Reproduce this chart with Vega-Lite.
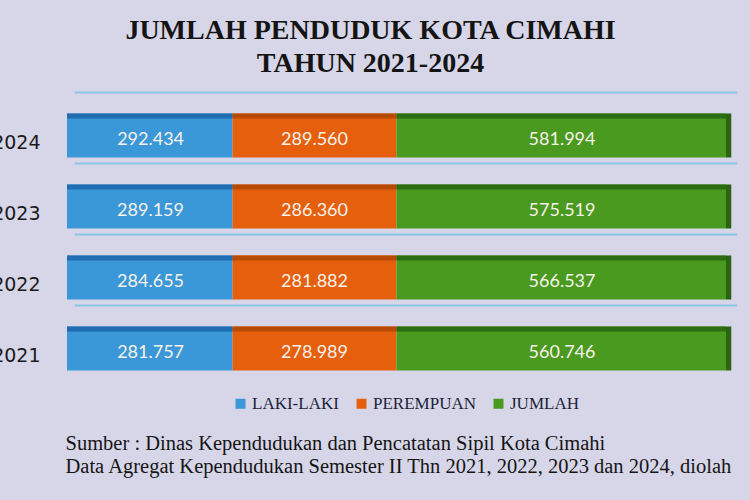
{
  "$schema": "https://vega.github.io/schema/vega-lite/v6.json",
  "width": 659,
  "height": 284,
  "autosize": {"type": "none"},
  "padding": {"left": 67, "top": 100, "right": 24, "bottom": 116},
  "background": "#d7d6e8",
  "config": {
    "view": {"stroke": null},
    "locale": {"number": {"decimal": ",", "thousands": ".", "grouping": [3], "currency": ["Rp", ""]}}
  },
  "title": {
    "text": ["JUMLAH PENDUDUK KOTA CIMAHI", "TAHUN 2021-2024"],
    "font": "Liberation Serif",
    "fontSize": 28,
    "fontWeight": "bold",
    "color": "#141414",
    "lineHeight": 33,
    "anchor": "middle",
    "dx": -26,
    "offset": 14
  },
  "data": {
    "values": [
      {"year": "2024", "category": "LAKI-LAKI", "k": 1, "value": 292434},
      {"year": "2024", "category": "PEREMPUAN", "k": 2, "value": 289560},
      {"year": "2024", "category": "JUMLAH", "k": 3, "value": 581994},
      {"year": "2023", "category": "LAKI-LAKI", "k": 1, "value": 289159},
      {"year": "2023", "category": "PEREMPUAN", "k": 2, "value": 286360},
      {"year": "2023", "category": "JUMLAH", "k": 3, "value": 575519},
      {"year": "2022", "category": "LAKI-LAKI", "k": 1, "value": 284655},
      {"year": "2022", "category": "PEREMPUAN", "k": 2, "value": 281882},
      {"year": "2022", "category": "JUMLAH", "k": 3, "value": 566537},
      {"year": "2021", "category": "LAKI-LAKI", "k": 1, "value": 281757},
      {"year": "2021", "category": "PEREMPUAN", "k": 2, "value": 278989},
      {"year": "2021", "category": "JUMLAH", "k": 3, "value": 560746}
    ]
  },
  "transform": [
    {"stack": "value", "groupby": ["year"], "sort": [{"field": "k", "order": "ascending"}], "offset": "normalize", "as": ["v0", "v1"]}
  ],
  "encoding": {
    "y": {
      "field": "year",
      "type": "nominal",
      "sort": "descending",
      "scale": {"paddingInner": 0.38, "paddingOuter": 0.19},
      "axis": {
        "title": null,
        "domain": false,
        "ticks": false,
        "labelFont": "DejaVu Sans",
        "labelFontSize": 19,
        "labelColor": "#1a1a1a",
        "labelPadding": 27,
        "labelOffset": 7
      }
    }
  },
  "layer": [
    {
      "transform": [{"filter": "datum.category === 'JUMLAH'"}],
      "mark": {"type": "rule", "color": "#8cc4e4", "strokeWidth": 2, "yOffset": -43},
      "encoding": {
        "x": {"datum": 0.012, "type": "quantitative", "scale": {"domain": [0, 1]}},
        "x2": {"datum": 1.017}
      }
    },
    {
      "mark": {"type": "bar"},
      "encoding": {
        "x": {
          "field": "v0",
          "type": "quantitative",
          "scale": {"domain": [0, 1]},
          "axis": {
            "labels": false,
            "ticks": false,
            "domain": false,
            "grid": false,
            "title": [
              "Sumber : Dinas Kependudukan dan Pencatatan Sipil Kota Cimahi",
              "Data Agregat Kependudukan Semester II Thn 2021, 2022, 2023 dan 2024, diolah"
            ],
            "titleFont": "Liberation Serif",
            "titleFontSize": 20.5,
            "titleFontWeight": "normal",
            "titleColor": "#151515",
            "titleAnchor": "start",
            "titleAlign": "left",
            "titleBaseline": "alphabetic",
            "titleX": -2,
            "titleY": 65,
            "titleLineHeight": 23
          }
        },
        "x2": {"field": "v1"},
        "color": {
          "field": "category",
          "type": "nominal",
          "scale": {
            "domain": ["LAKI-LAKI", "PEREMPUAN", "JUMLAH"],
            "range": ["#3a97d8", "#e65f0d", "#4a9a1f"]
          },
          "legend": {
            "title": null,
            "orient": "none",
            "legendX": 165,
            "legendY": 295,
            "direction": "horizontal",
            "symbolType": "square",
            "symbolSize": 100,
            "symbolStrokeWidth": 0,
            "labelFont": "Liberation Serif",
            "labelFontSize": 17,
            "labelColor": "#1c1f3a",
            "labelOffset": 3,
            "columnPadding": 14
          }
        }
      }
    },
    {
      "mark": {"type": "bar", "height": 5, "yOffset": -19.5},
      "encoding": {
        "x": {"field": "v0", "type": "quantitative"},
        "x2": {"field": "v1"},
        "fill": {
          "field": "category",
          "type": "nominal",
          "scale": {
            "domain": ["LAKI-LAKI", "PEREMPUAN", "JUMLAH"],
            "range": ["#1f6db0", "#b84a08", "#2c6c12"]
          },
          "legend": null
        }
      }
    },
    {
      "transform": [{"filter": "datum.category === 'JUMLAH'"}],
      "mark": {"type": "bar", "color": "#2a6410"},
      "encoding": {
        "x": {"datum": 1, "type": "quantitative"},
        "x2": {"datum": 1.008}
      }
    },
    {
      "transform": [{"filter": "datum.category !== 'JUMLAH'"}],
      "mark": {"type": "text", "dx": -82, "dy": 4, "align": "center", "baseline": "middle", "font": "Lato", "fontSize": 18, "color": "#f6f2ea"},
      "encoding": {
        "x": {"field": "v1", "type": "quantitative"},
        "text": {"field": "value", "type": "quantitative", "format": ",d"}
      }
    },
    {
      "transform": [{"filter": "datum.category === 'JUMLAH'"}],
      "mark": {"type": "text", "dx": -164, "dy": 4, "align": "center", "baseline": "middle", "font": "Lato", "fontSize": 18, "color": "#f6f2ea"},
      "encoding": {
        "x": {"field": "v1", "type": "quantitative"},
        "text": {"field": "value", "type": "quantitative", "format": ",d"}
      }
    }
  ]
}
